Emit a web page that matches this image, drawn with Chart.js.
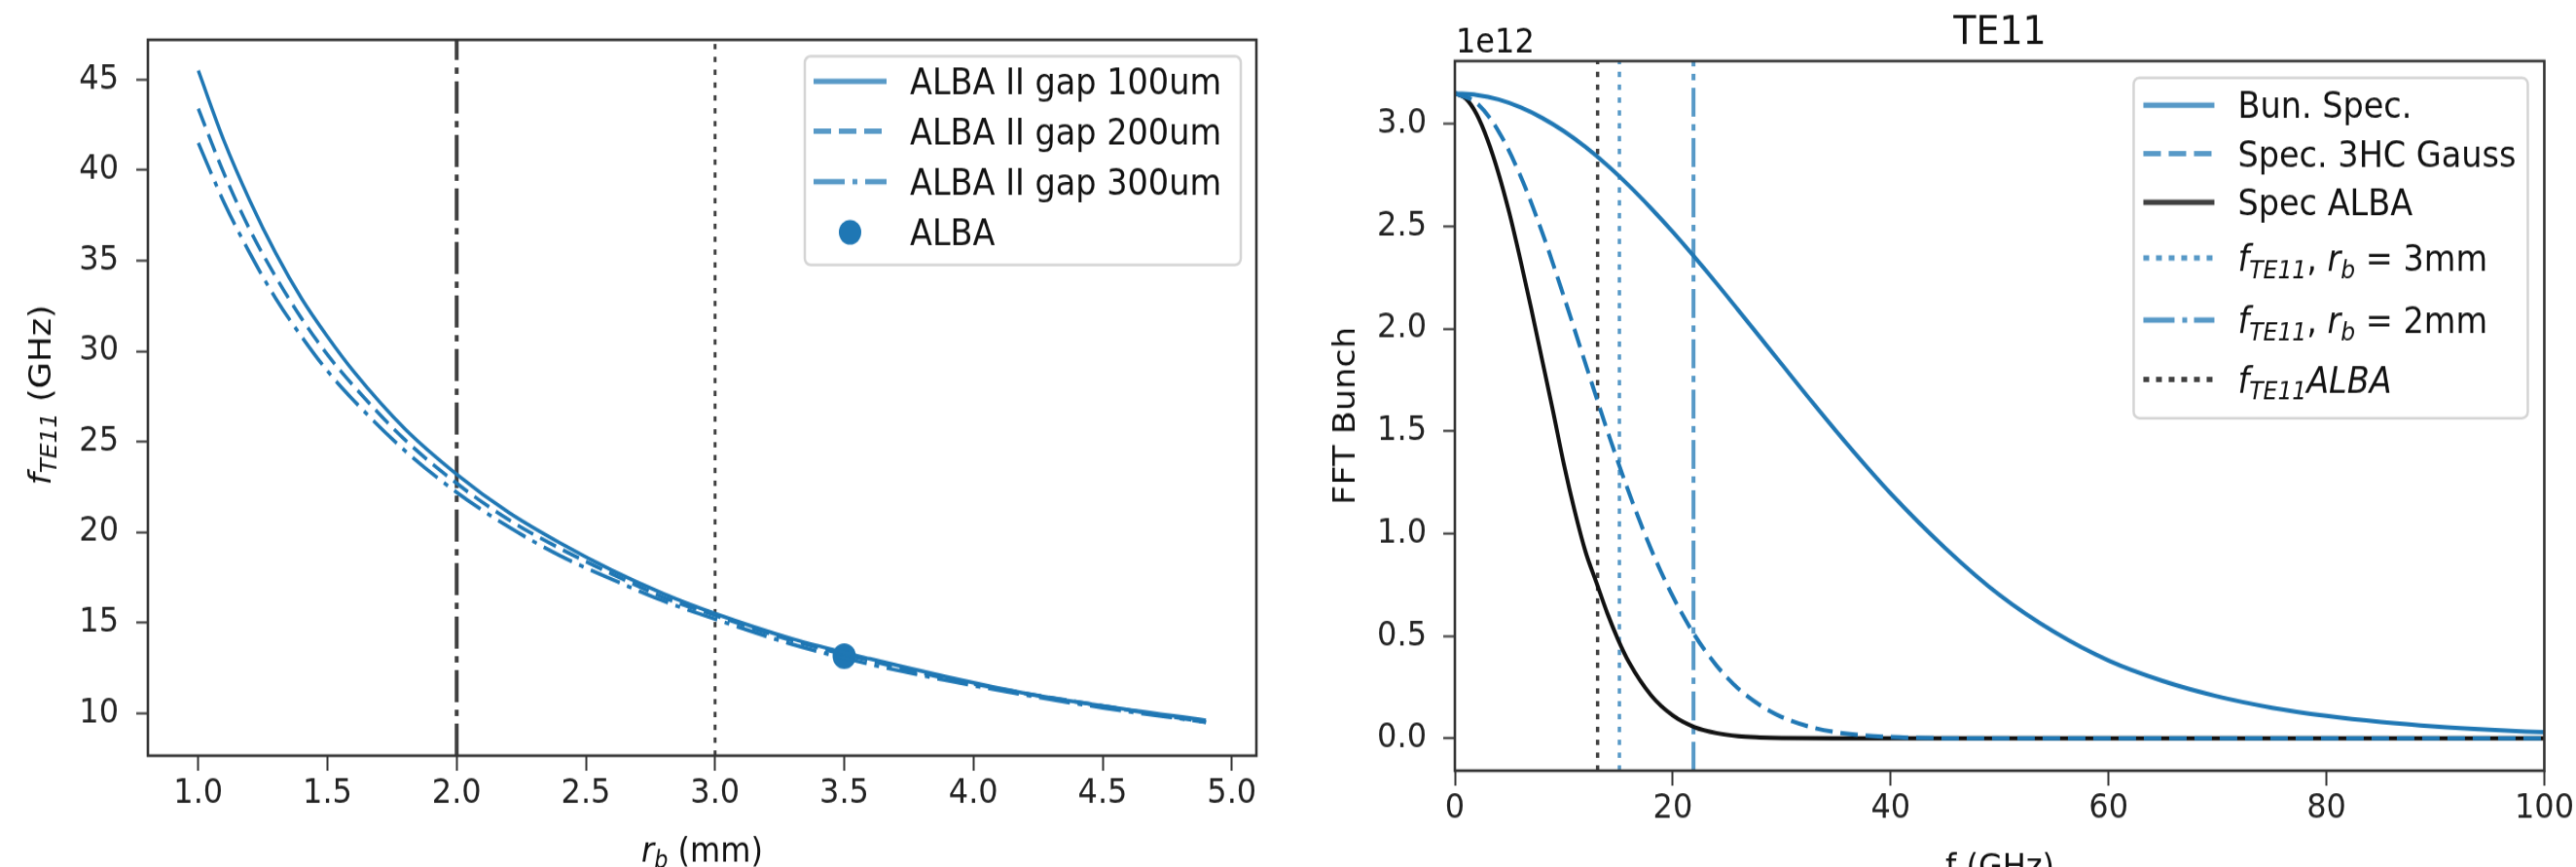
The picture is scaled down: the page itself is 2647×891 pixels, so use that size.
<!DOCTYPE html>
<html lang="en">
<head>
<meta charset="UTF-8" />
<title>TE11 cutoff / bunch spectrum</title>
<script src="https://cdn.jsdelivr.net/npm/chart.js"></script>
<style>
  html, body { margin: 0; padding: 0; background: #fff; overflow: hidden; }
  .wrap { display: flex; width: 2647px; height: 891px; }
  canvas { display: block; }
</style>
</head>
<body>
<div class="wrap">
  <!-- drawn at 810px high and shown at 891px: the figure is slightly stretched vertically -->
  <canvas id="chartCutoff" width="1320" height="810" style="width:1320px;height:891px"></canvas>
  <canvas id="chartSpectrum" width="1327" height="810" style="width:1327px;height:891px"></canvas>
</div>
<script>
// ---- left panel: f_TE11 vs beam pipe radius ----
const rb = [1.0, 1.1, 1.2, 1.3, 1.4, 1.5, 1.6, 1.8, 2.0, 2.2, 2.4, 2.6, 2.8, 3.0, 3.3, 3.6, 3.9, 4.2, 4.5, 4.9];
const gap100 = [45.5, 41.6, 38.3, 35.4, 32.9, 30.8, 28.9, 25.7, 23.2, 21.1, 19.4, 17.9, 16.6, 15.5, 14.1, 13.0, 12.0, 11.1, 10.4, 9.6];
const gap200 = [43.4, 39.8, 36.7, 34.1, 31.8, 29.8, 28.1, 25.1, 22.7, 20.7, 19.1, 17.7, 16.4, 15.4, 14.0, 12.9, 11.9, 11.1, 10.4, 9.5];
const gap300 = [41.5, 38.2, 35.4, 32.9, 30.8, 28.9, 27.3, 24.5, 22.2, 20.3, 18.7, 17.4, 16.2, 15.2, 13.8, 12.7, 11.8, 11.0, 10.3, 9.5];
const albaRb = [3.5];
const albaF = [13.15];
const rbMarks = [2.0, 3.0];
const rbTicks = [1.0, 1.5, 2.0, 2.5, 3.0, 3.5, 4.0, 4.5, 5.0];
const fTicks = [10, 15, 20, 25, 30, 35, 40, 45];
const rbRange = [0.805, 5.095];
const fRange = [7.65, 47.2];

// ---- right panel: bunch spectra (units of 1e12) ----
const freq = [0, 2, 4, 6, 8, 10, 12, 14, 16, 18, 20, 22, 24, 26, 28, 30, 33, 36, 40, 45, 50, 55, 60, 65, 70, 75, 80, 85, 90, 95, 100];
const bunSpec = [3.150, 3.142, 3.120, 3.082, 3.030, 2.965, 2.887, 2.798, 2.698, 2.589, 2.473, 2.350, 2.223, 2.092, 1.960, 1.827, 1.629, 1.437, 1.196, 0.930, 0.700, 0.520, 0.380, 0.280, 0.205, 0.150, 0.110, 0.080, 0.058, 0.042, 0.030];
const spec3hc = [3.150, 3.103, 2.965, 2.749, 2.473, 2.158, 1.828, 1.501, 1.197, 0.925, 0.694, 0.505, 0.357, 0.244, 0.163, 0.105, 0.051, 0.023, 0.007, 0.001, 0, 0, 0, 0, 0, 0, 0, 0, 0, 0, 0];
const freqAlba = [0, 1, 2, 3, 4, 5, 6, 7, 8, 9, 10, 11, 12, 13, 14, 15, 16, 18, 20, 22, 24, 26, 28, 30, 35, 40, 50, 60, 70, 80, 90, 100];
const specAlba = [3.150, 3.124, 3.047, 2.922, 2.760, 2.565, 2.340, 2.100, 1.850, 1.600, 1.340, 1.110, 0.910, 0.760, 0.610, 0.480, 0.370, 0.211, 0.112, 0.055, 0.026, 0.011, 0.005, 0.002, 0, 0, 0, 0, 0, 0, 0, 0];
const fMarkAlba = 13.1;
const fMarkRb3 = 15.1;
const fMarkRb2 = 21.9;
const freqTicks = [0, 20, 40, 60, 80, 100];
const specTicks = [0, 0.5, 1.0, 1.5, 2.0, 2.5, 3.0];
const freqRange = [0, 100];
const specRange = [-0.1575, 3.3075];

const FONT = '"DejaVu Sans", sans-serif';
const blue = '#1f77b4';
const blueSoft = 'rgba(31,119,180,0.75)';
const darkSoft = 'rgba(0,0,0,0.75)';

const pairs = (xs, ys) => xs.map((x, i) => ({ x, y: ys[i] }));
const vline = (x, range) => [{ x, y: range[0] }, { x, y: range[1] }];

// text with italic / subscript pieces: [text, style] with style '' | 'i' | 'si'
function drawRich(ctx, parts, x, y, size, align) {
  const fontOf = (st) => `${st.includes('i') ? 'italic ' : ''}${st.includes('s') ? size * 0.7 : size}px ${FONT}`;
  let width = 0;
  for (const [t, st] of parts) { ctx.font = fontOf(st); width += ctx.measureText(t).width; }
  let cx = align === 'center' ? x - width / 2 : x;
  const base = y + size * 0.36;
  ctx.textAlign = 'left';
  ctx.textBaseline = 'alphabetic';
  for (const [t, st] of parts) {
    ctx.font = fontOf(st);
    ctx.fillText(t, cx, base + (st.includes('s') ? size * 0.2 : 0));
    cx += ctx.measureText(t).width;
  }
}

// axes frame on all four sides (matplotlib spines)
const frame = {
  id: 'frame',
  afterDatasetsDraw(chart) {
    const { ctx, chartArea: a } = chart;
    ctx.save();
    ctx.strokeStyle = '#333';
    ctx.lineWidth = 2.6;
    ctx.strokeRect(a.left, a.top, a.right - a.left, a.bottom - a.top);
    ctx.restore();
  }
};

function makeLegend(cfg) {
  return {
    id: 'boxLegend',
    afterDraw(chart) {
      const { ctx, chartArea: a } = chart;
      const left = a.right - cfg.right - cfg.width;
      const top = a.top + cfg.top;
      ctx.save();
      ctx.beginPath();
      ctx.roundRect(left, top, cfg.width, cfg.height, 6);
      ctx.fillStyle = 'rgba(255,255,255,0.8)';
      ctx.fill();
      ctx.strokeStyle = '#d4d4d4';
      ctx.lineWidth = 2.5;
      ctx.stroke();
      const items = chart.data.datasets.filter((ds) => ds.legendLabel);
      items.forEach((ds, i) => {
        const y = top + cfg.rows[i];
        const x0 = left + cfg.handleX;
        if (ds.showLine === false) {
          ctx.beginPath();
          ctx.arc(x0 + cfg.handleLen / 2, y, 11.5, 0, Math.PI * 2);
          ctx.fillStyle = ds.pointBackgroundColor;
          ctx.fill();
        } else {
          ctx.strokeStyle = ds.legendColor || ds.borderColor;
          ctx.setLineDash(ds.legendDash || ds.borderDash || []);
          ctx.lineWidth = 5;
          ctx.beginPath();
          ctx.moveTo(x0, y);
          ctx.lineTo(x0 + cfg.handleLen, y);
          ctx.stroke();
          ctx.setLineDash([]);
        }
        ctx.fillStyle = '#111';
        drawRich(ctx, ds.legendLabel, left + cfg.textX, y, 33.5, 'left');
      });
      ctx.restore();
    }
  };
}

function makeText(items) {
  return {
    id: 'figText',
    afterDraw(chart) {
      const { ctx } = chart;
      ctx.save();
      ctx.fillStyle = '#111';
      for (const it of items) {
        ctx.save();
        ctx.translate(it.x, it.y);
        if (it.rotate) ctx.rotate(-Math.PI / 2);
        drawRich(ctx, it.parts, 0, 0, it.size, it.align || 'center');
        ctx.restore();
      }
      ctx.restore();
    }
  };
}

function axis(range, ticks, fmt, tickLen, pad, fitKey, fitSize) {
  return {
    type: 'linear',
    min: range[0],
    max: range[1],
    border: { display: false },
    grid: { drawOnChartArea: false, drawTicks: true, tickLength: tickLen, tickWidth: 2, tickColor: '#333' },
    ticks: {
      color: '#222',
      font: { family: FONT, size: 32 },
      padding: pad,
      autoSkip: false,
      maxRotation: 0,
      callback: (v) => fmt(v)
    },
    afterBuildTicks: (scale) => { scale.ticks = ticks.map((v) => ({ value: v })); },
    afterFit: (scale) => { scale[fitKey] = fitSize; }
  };
}

const baseOptions = {
  responsive: false,
  animation: false,
  devicePixelRatio: 1,
  events: [],
  plugins: { legend: { display: false }, tooltip: { enabled: false }, title: { display: false } },
  elements: { point: { radius: 0, hoverRadius: 0 } }
};

// ---------- left chart ----------
new Chart(document.getElementById('chartCutoff'), {
  type: 'line',
  data: {
    datasets: [
      { legendLabel: [['ALBA II gap 100um', '']], data: pairs(rb, gap100), borderColor: blue, legendColor: blueSoft,
        borderWidth: 3.5, cubicInterpolationMode: 'monotone' },
      { legendLabel: [['ALBA II gap 200um', '']], data: pairs(rb, gap200), borderColor: blue, legendColor: blueSoft,
        borderWidth: 3.5, borderDash: [18, 8], cubicInterpolationMode: 'monotone' },
      { legendLabel: [['ALBA II gap 300um', '']], data: pairs(rb, gap300), borderColor: blue, legendColor: blueSoft,
        borderWidth: 3.5, borderDash: [32, 8, 5, 8], cubicInterpolationMode: 'monotone' },
      { legendLabel: [['ALBA', '']], data: pairs(albaRb, albaF), showLine: false,
        pointRadius: 12, pointBackgroundColor: blue, pointBorderWidth: 0 },
      { data: vline(rbMarks[0], fRange), borderColor: darkSoft, borderWidth: 4, borderDash: [30, 7, 6, 7] },
      { data: vline(rbMarks[1], fRange), borderColor: darkSoft, borderWidth: 3, borderDash: [5, 7] }
    ]
  },
  options: {
    ...baseOptions,
    layout: { padding: { left: 0, top: 32, right: 29, bottom: 0 } },
    scales: {
      x: axis(rbRange, rbTicks, (v) => v.toFixed(1), 14, 2, 'height', 104),
      y: axis(fRange, fTicks, (v) => String(v), 12, 18, 'width', 152)
    }
  },
  plugins: [
    frame,
    makeLegend({ right: 16, top: 15.3, width: 448, height: 195, rows: [23.6, 70, 117.2, 164.5], handleX: 9, handleLen: 75, textX: 108 }),
    makeText([
      { parts: [['f', 'i'], ['TE11', 'si'], [' (GHz)', '']], x: 40, y: 369, size: 32, rotate: true },
      { parts: [['r', 'i'], ['b', 'si'], [' (mm)', '']], x: 721.5, y: 793, size: 32 }
    ])
  ]
});

// ---------- right chart ----------
new Chart(document.getElementById('chartSpectrum'), {
  type: 'line',
  data: {
    datasets: [
      { legendLabel: [['Bun. Spec.', '']], data: pairs(freq, bunSpec), borderColor: blue, legendColor: blueSoft,
        borderWidth: 4, cubicInterpolationMode: 'monotone' },
      { legendLabel: [['Spec. 3HC Gauss', '']], data: pairs(freq, spec3hc), borderColor: blue, legendColor: blueSoft,
        borderWidth: 4, borderDash: [18, 8], cubicInterpolationMode: 'monotone' },
      { legendLabel: [['Spec ALBA', '']], data: pairs(freqAlba, specAlba), borderColor: '#111', legendColor: darkSoft,
        borderWidth: 4, cubicInterpolationMode: 'monotone' },
      { legendLabel: [['f', 'i'], ['TE11', 'si'], [', ', ''], ['r', 'i'], ['b', 'si'], [' = 3mm', '']],
        data: vline(fMarkRb3, specRange), borderColor: blueSoft, borderWidth: 3.5, borderDash: [5, 7], legendDash: [6, 7] },
      { legendLabel: [['f', 'i'], ['TE11', 'si'], [', ', ''], ['r', 'i'], ['b', 'si'], [' = 2mm', '']],
        data: vline(fMarkRb2, specRange), borderColor: blueSoft, borderWidth: 4, borderDash: [27, 7, 6, 7], legendDash: [32, 8, 5, 7] },
      { legendLabel: [['f', 'i'], ['TE11', 'si'], ['ALBA', 'i']],
        data: vline(fMarkAlba, specRange), borderColor: darkSoft, borderWidth: 3.5, borderDash: [5, 7], legendDash: [6, 7] }
    ]
  },
  options: {
    ...baseOptions,
    layout: { padding: { left: 0, top: 57, right: 32, bottom: 0 } },
    scales: {
      x: axis(freqRange, freqTicks, (v) => String(v), 14, 2, 'height', 90),
      y: axis(specRange, specTicks, (v) => v.toFixed(1), 12, 17, 'width', 175)
    }
  },
  plugins: [
    frame,
    makeLegend({ right: 17, top: 15.7, width: 405, height: 318, rows: [25.5, 70.9, 116.4, 168.2, 226.4, 281.8], handleX: 10, handleLen: 73, textX: 107 }),
    makeText([
      { parts: [['FFT Bunch', '']], x: 60, y: 388.5, size: 32, rotate: true },
      { parts: [['f (GHz)', '']], x: 735, y: 808, size: 32 },
      { parts: [['TE11', '']], x: 735, y: 27, size: 38 },
      { parts: [['1e12', '']], x: 176, y: 37, size: 32, align: 'left' }
    ])
  ]
});
</script>
</body>
</html>
